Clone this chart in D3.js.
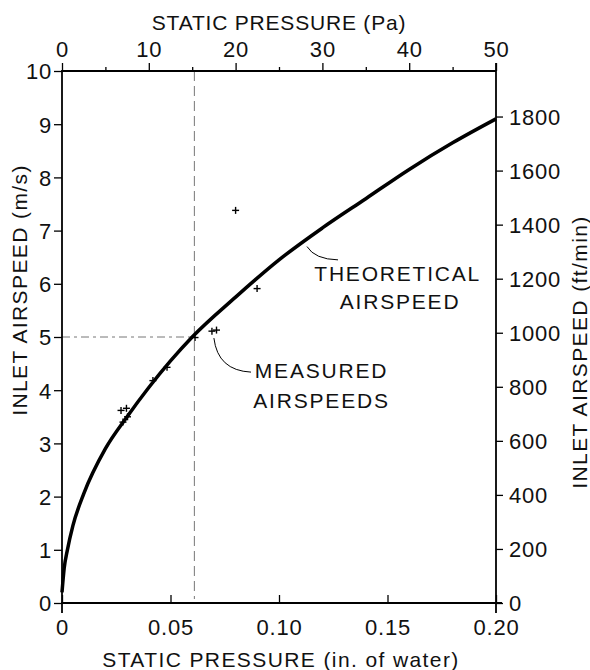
<html>
  <head>
    <style>
      body { margin: 0; background: #fff; }
      text {
        font-family: "Liberation Sans", Arial, Helvetica, sans-serif;
        fill: #111;
      }
      .tick text { font-size: 22px; letter-spacing: 0.8px; }
      .title { font-size: 21px; letter-spacing: 1.4px; }
      .note { font-size: 21px; letter-spacing: 1.8px; }
      .frame { stroke: #000; stroke-width: 1.8; fill: none; }
      .curve { stroke: #000; stroke-width: 3.5; fill: none; }
      .ref { stroke: #777; stroke-width: 1; fill: none; }
      .leader { stroke: #000; stroke-width: 1; fill: none; }
    </style>
    <script src="https://cdnjs.cloudflare.com/ajax/libs/d3/7.8.5/d3.min.js"></script>
  </head>
  <body>
    <script>
      // values
      var curveP = [0, 0.001, 0.0025, 0.005, 0.01, 0.02, 0.03, 0.04, 0.05, 0.06, 0.08, 0.10, 0.12, 0.14, 0.16, 0.18, 0.20];
      var curveV = [0.2, 0.65, 1.0, 1.45, 2.05, 2.9, 3.5, 4.05, 4.55, 5.0, 5.75, 6.45, 7.05, 7.6, 8.15, 8.65, 9.1];
      var measP = [0.0272, 0.0297, 0.0281, 0.0302, 0.0419, 0.0484, 0.0613, 0.0691, 0.0712, 0.0800, 0.0899];
      var measV = [3.62, 3.66, 3.40, 3.50, 4.18, 4.43, 4.99, 5.11, 5.13, 7.38, 5.91];
      var xInTicks = [0, 0.05, 0.10, 0.15, 0.20];
      var xPaTicks = [0, 10, 20, 30, 40, 50];
      var xPaMinor = [5, 15, 25, 35, 45];
      var yMsTicks = [0, 1, 2, 3, 4, 5, 6, 7, 8, 9, 10];
      var yFpmTicks = [0, 200, 400, 600, 800, 1000, 1200, 1400, 1600, 1800];
      var refP = 0.061, refV = 5;

      var W = 590, H = 670;
      var mLeft = 62, mRight = 496, mTop = 71, mBottom = 603;

      var svg = d3.select("body").append("svg")
        .attr("width", W)
        .attr("height", H);

      var x = d3.scaleLinear().domain([0, 0.2]).range([mLeft, mRight]);
      var xPa = d3.scaleLinear().domain([0, 50]).range([mLeft, mRight]);
      var y = d3.scaleLinear().domain([0, 10]).range([mBottom, mTop]);
      // 1 m/s = 196.85 ft/min
      var yFpm = d3.scaleLinear().domain([0, 1968.5]).range([mBottom, mTop]);

      // reference lines
      svg.append("line").attr("class", "ref")
        .attr("x1", x(refP)).attr("x2", x(refP))
        .attr("y1", mTop).attr("y2", mBottom - 4)
        .attr("stroke-dasharray", "10,5");
      svg.append("line").attr("class", "ref")
        .attr("x1", mLeft).attr("x2", x(refP))
        .attr("y1", y(refV)).attr("y2", y(refV))
        .attr("stroke", "#999")
        .attr("stroke-dasharray", "8,4,3,4");

      // axes
      var gB = svg.append("g").attr("transform", "translate(0," + mBottom + ")")
        .call(d3.axisBottom(x).tickValues(xInTicks).tickSizeInner(-8).tickSizeOuter(0).tickPadding(16)
          .tickFormat(function(d) { return d === 0 ? "0" : d.toFixed(2); }));
      var gT = svg.append("g").attr("transform", "translate(0," + mTop + ")")
        .call(d3.axisTop(xPa).tickValues(xPaTicks).tickSize(8).tickPadding(6));
      svg.append("g").attr("transform", "translate(0," + mTop + ")")
        .call(d3.axisTop(xPa).tickValues(xPaMinor).tickSize(4).tickFormat(""));
      var gL = svg.append("g").attr("transform", "translate(" + mLeft + ",0)")
        .call(d3.axisLeft(y).tickValues(yMsTicks).tickSize(8).tickPadding(2));
      var gR = svg.append("g").attr("transform", "translate(" + mRight + ",0)")
        .call(d3.axisRight(yFpm).tickValues(yFpmTicks).tickSize(7).tickPadding(6).tickFormat(d3.format("d")));

      svg.selectAll(".domain").remove();
      svg.selectAll(".tick line").attr("stroke", "#000").attr("stroke-width", 1.3);
      svg.selectAll(".tick text").attr("fill", "#111");
      gL.selectAll(".tick text").attr("dy", "0.36em");
      gR.selectAll(".tick text").attr("dy", "0.36em");

      // frame
      svg.append("line").attr("class", "frame").attr("x1", mLeft - 1).attr("x2", mRight + 6).attr("y1", mBottom).attr("y2", mBottom);
      svg.append("line").attr("class", "frame").attr("x1", mLeft).attr("x2", mRight).attr("y1", mTop).attr("y2", mTop);
      svg.append("line").attr("class", "frame").attr("x1", mLeft).attr("x2", mLeft).attr("y1", mTop - 1).attr("y2", mBottom + 10);
      svg.append("line").attr("class", "frame").attr("x1", mRight).attr("x2", mRight).attr("y1", mTop - 8).attr("y2", mBottom + 10);

      // theoretical curve
      var line = d3.line()
        .x(function(d) { return x(d[0]); })
        .y(function(d) { return y(d[1]); })
        .curve(d3.curveMonotoneX);
      svg.append("path").attr("class", "curve")
        .attr("d", line(d3.zip(curveP, curveV)));

      // measured points, small crosses
      svg.selectAll(".meas")
        .data(d3.zip(measP, measV))
        .enter().append("g")
        .attr("class", "meas")
        .attr("transform", function(d) { return "translate(" + x(d[0]) + "," + y(d[1]) + ")"; })
        .each(function() {
          var g = d3.select(this);
          g.append("line").attr("x1", -3.5).attr("x2", 3.5).attr("stroke", "#000").attr("stroke-width", 1.4);
          g.append("line").attr("y1", -3.5).attr("y2", 3.5).attr("stroke", "#000").attr("stroke-width", 1.4);
        });

      // annotations
      svg.append("path").attr("class", "leader")
        .attr("d", "M" + x(0.1129) + "," + y(6.70) + "Q" + x(0.1165) + "," + y(6.46) + " " + x(0.1272) + "," + y(6.45));
      svg.append("path").attr("class", "leader")
        .attr("d", "M" + x(0.0700) + "," + y(4.98) + "Q" + x(0.0718) + "," + y(4.37) + " " + x(0.0871) + "," + y(4.34));

      svg.append("text").attr("class", "note").attr("text-anchor", "middle")
        .attr("x", x(0.1547)).attr("y", y(6.06)).text("THEORETICAL");
      svg.append("text").attr("class", "note").attr("text-anchor", "middle")
        .attr("x", x(0.1558)).attr("y", y(5.53)).text("AIRSPEED");
      svg.append("text").attr("class", "note").attr("text-anchor", "middle")
        .attr("x", x(0.1196)).attr("y", y(4.23)).text("MEASURED");
      svg.append("text").attr("class", "note").attr("text-anchor", "middle")
        .attr("x", x(0.1196)).attr("y", y(3.67)).text("AIRSPEEDS");

      // titles
      svg.append("text").attr("class", "title").attr("text-anchor", "middle")
        .style("letter-spacing", "0.8px")
        .attr("x", (mLeft + mRight) / 2).attr("y", 30).text("STATIC PRESSURE (Pa)");
      svg.append("text").attr("class", "title").attr("text-anchor", "middle")
        .attr("x", 281).attr("y", 667).text("STATIC PRESSURE (in. of water)");
      svg.append("text").attr("class", "title").attr("text-anchor", "middle")
        .attr("transform", "translate(27,290) rotate(-90)").text("INLET AIRSPEED (m/s)");
      svg.append("text").attr("class", "title").attr("text-anchor", "middle")
        .attr("transform", "translate(587,352) rotate(-90)").text("INLET AIRSPEED (ft/min)");
    </script>
  </body>
</html>
